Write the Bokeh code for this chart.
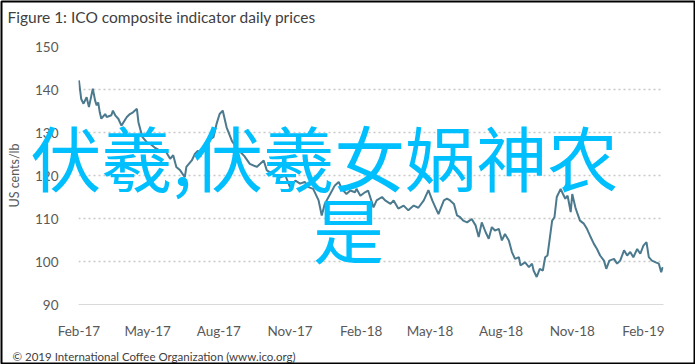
import pandas as pd
from bokeh.plotting import figure
from bokeh.models import Range1d, FixedTicker, DatetimeTickFormatter, ColumnDataSource
from bokeh.core.properties import value
from bokeh.embed import file_html
from bokeh.resources import INLINE

# ---------------- data ----------------
title_text = "Figure 1: ICO composite indicator daily prices"
source_text = "© 2019 International Coffee Organization (www.ico.org)"
y_axis_title = "US cents/lb"
overlay_line1 = "伏羲,伏羲女娲神农"
overlay_line2 = "是"

dates = [
    "2017-02-01", "2017-02-04", "2017-02-07", "2017-02-11", "2017-02-14", "2017-02-19",
    "2017-02-22", "2017-02-24", "2017-02-26", "2017-02-28", "2017-03-02", "2017-03-07",
    "2017-03-09", "2017-03-15", "2017-03-17", "2017-03-20", "2017-03-24", "2017-03-28",
    "2017-04-04", "2017-04-08", "2017-04-12", "2017-04-17", "2017-04-19", "2017-04-24",
    "2017-04-30", "2017-05-04", "2017-05-10", "2017-05-17", "2017-05-25", "2017-05-30",
    "2017-06-03", "2017-06-07", "2017-06-12", "2017-06-18", "2017-06-20", "2017-06-27",
    "2017-07-01", "2017-07-05", "2017-07-08", "2017-07-12", "2017-07-18", "2017-07-25",
    "2017-07-29", "2017-08-02", "2017-08-06", "2017-08-09", "2017-08-11", "2017-08-18",
    "2017-08-26", "2017-09-03", "2017-09-10", "2017-09-19", "2017-09-28", "2017-10-02",
    "2017-10-10", "2017-10-19", "2017-10-26", "2017-11-01", "2017-11-08", "2017-11-14",
    "2017-11-20", "2017-11-25", "2017-12-01", "2017-12-08", "2017-12-12", "2017-12-16",
    "2017-12-23", "2017-12-29", "2018-01-03", "2018-01-07", "2018-01-13", "2018-01-18",
    "2018-01-24", "2018-01-26", "2018-01-31", "2018-02-06", "2018-02-10", "2018-02-17",
    "2018-02-21", "2018-02-28", "2018-03-04", "2018-03-11", "2018-03-15", "2018-03-21",
    "2018-03-28", "2018-04-03", "2018-04-10", "2018-04-16", "2018-04-23", "2018-04-29",
    "2018-05-04", "2018-05-08", "2018-05-12", "2018-05-19", "2018-05-23", "2018-05-27",
    "2018-06-01", "2018-06-05", "2018-06-09", "2018-06-13", "2018-06-18", "2018-06-24",
    "2018-06-29", "2018-07-03", "2018-07-07", "2018-07-12", "2018-07-16", "2018-07-20",
    "2018-07-24", "2018-07-29", "2018-08-02", "2018-08-06", "2018-08-11", "2018-08-15",
    "2018-08-19", "2018-08-24", "2018-08-26", "2018-09-01", "2018-09-06", "2018-09-10",
    "2018-09-12", "2018-09-16", "2018-09-20", "2018-09-24", "2018-09-27", "2018-09-30",
    "2018-10-06", "2018-10-09", "2018-10-12", "2018-10-17", "2018-10-20", "2018-10-23",
    "2018-10-26", "2018-10-30", "2018-11-01", "2018-11-05", "2018-11-08", "2018-11-11",
    "2018-11-16", "2018-11-20", "2018-11-24", "2018-11-29", "2018-12-03", "2018-12-07",
    "2018-12-12", "2018-12-15", "2018-12-19", "2018-12-25", "2018-12-29", "2019-01-02",
    "2019-01-07", "2019-01-11", "2019-01-15", "2019-01-19", "2019-01-24", "2019-01-28",
    "2019-02-01", "2019-02-05", "2019-02-08", "2019-02-12", "2019-02-17", "2019-02-21",
    "2019-02-24", "2019-02-26",
]
prices = [
    142.1, 137.8, 136.7, 138.2, 135.9, 140.2,
    137.4, 136.3, 137.0, 134.7, 133.2, 134.3,
    133.6, 134.0, 135.1, 134.0, 133.2, 131.6,
    133.6, 134.3, 134.7, 135.5, 132.4, 129.0,
    127.7, 127.4, 126.5, 125.8, 125.4, 123.9,
    124.7, 122.0, 121.2, 119.6, 122.0, 123.5,
    125.0, 125.8, 124.3, 126.6, 128.1, 128.9,
    132.0, 134.3, 135.1, 132.8, 131.2, 128.0,
    126.0, 124.5, 122.7, 122.0, 123.5, 121.2,
    120.4, 119.6, 120.0, 117.3, 118.8, 118.1,
    118.5, 117.3, 116.9, 114.2, 110.7, 113.4,
    115.7, 117.7, 118.5, 116.9, 115.7, 116.5,
    116.1, 116.9, 115.3, 116.1, 116.5, 112.6,
    114.2, 115.0, 114.2, 113.4, 114.2, 112.3,
    113.0, 111.9, 113.0, 112.5, 114.2, 116.6,
    114.2, 112.6, 111.0, 114.2, 114.6, 114.2,
    113.4, 110.7, 110.3, 109.5, 109.1, 109.9,
    108.4, 105.7, 109.1, 106.8, 105.3, 108.0,
    107.2, 107.6, 104.9, 106.4, 104.9, 102.2,
    100.6, 101.0, 99.1, 99.8, 98.7, 99.5,
    97.9, 96.4, 98.3, 97.9, 101.0, 101.4,
    109.5, 110.3, 115.0, 116.9, 115.7, 114.6,
    115.3, 111.5, 115.7, 112.6, 111.0, 109.5,
    108.8, 107.6, 106.0, 104.1, 102.9, 101.4,
    100.2, 98.3, 100.2, 100.6, 99.5, 100.2,
    102.6, 101.4, 102.2, 101.0, 102.9, 101.8,
    103.7, 104.5, 101.0, 100.2, 99.8, 99.5,
    97.5, 98.7,
]
x_tick_dates = ["2017-02-01", "2017-05-01", "2017-08-01", "2017-11-01", "2018-02-01",
                "2018-05-01", "2018-08-01", "2018-11-01", "2019-02-01"]
y_ticks = [90, 100, 110, 120, 130, 140, 150]

# ---------------- layout ----------------
W, H = 695, 364
LEFT, RIGHT, TOP, BOTTOM = 78, 32, 46, 60
x_start = pd.Timestamp("2017-01-31 12:00")
x_end = pd.Timestamp("2019-02-27 00:00")
y_start, y_end = 90, 150


def ms(ts):
    return pd.Timestamp(ts).value / 1e6


xs0, xs1 = ms(x_start), ms(x_end)
fw, fh = W - LEFT - RIGHT, H - TOP - BOTTOM


def cx(px):  # canvas px -> data x
    return xs0 + (px - LEFT) / fw * (xs1 - xs0)


def cy(py):  # canvas px (from top) -> data y
    return y_end - (py - TOP) / fh * (y_end - y_start)


src = ColumnDataSource(dict(date=pd.to_datetime(dates), price=prices))

p = figure(width=W, height=H, x_axis_type="datetime", output_backend="svg",
           toolbar_location=None, min_border_left=LEFT, min_border_right=RIGHT,
           min_border_top=TOP, min_border_bottom=BOTTOM,
           x_range=Range1d(xs0, xs1), y_range=Range1d(y_start, y_end))
p.outline_line_color = None
p.background_fill_color = "white"
p.border_fill_color = "white"

p.line("date", "price", source=src, line_color="#4b798d", line_width=2)

# axes
tick_font = "Lato"
p.xaxis.ticker = FixedTicker(ticks=[ms(d) for d in x_tick_dates])
fmt = "%b-%y"
p.xaxis.formatter = DatetimeTickFormatter(milliseconds=fmt, seconds=fmt, minsec=fmt, minutes=fmt,
                                          hourmin=fmt, hours=fmt, days=fmt, months=fmt, years=fmt)
p.yaxis.ticker = FixedTicker(ticks=y_ticks)
for ax in (p.xaxis, p.yaxis):
    ax.major_label_text_font = tick_font
    ax.major_label_text_font_size = "13.5px"
    ax.major_label_text_color = "#595959"
    ax.major_tick_line_color = None
    ax.minor_tick_line_color = None
p.xaxis.axis_line_color = "#d9d9d9"
p.xaxis.axis_line_width = 1
p.xaxis.major_label_standoff = 12
p.yaxis.axis_line_color = None
p.yaxis.major_label_standoff = 14
p.yaxis.axis_label = y_axis_title
p.yaxis.axis_label_text_font = tick_font
p.yaxis.axis_label_text_font_size = "12.5px"
p.yaxis.axis_label_text_font_style = "normal"
p.yaxis.axis_label_text_color = "#595959"
p.yaxis.axis_label_standoff = 10

p.xgrid.grid_line_color = None
p.ygrid.grid_line_color = "#c8c8c8"
p.ygrid.grid_line_dash = "2 3"
p.ygrid.grid_line_width = 1.5

# texts (glyph renderers on the overlay level are not clipped to the frame)
p.text(x=[cx(7)], y=[cy(16)], text=[title_text], text_font=value("Lato"),
       text_font_size="15.5px", text_color="#404040", text_align="left",
       text_baseline="middle", level="overlay")
p.text(x=[cx(12)], y=[cy(356)], text=[source_text], text_font=value("Lato"),
       text_font_size="11.5px", text_color="#404040", text_align="left",
       text_baseline="middle", level="overlay")
p.text(x=[cx(30)], y=[cy(154)], text=[overlay_line1], text_font=value("Noto Sans CJK SC"),
       text_font_size="71px", text_color="#00BFFF", text_align="left",
       text_baseline="middle", level="overlay")
p.text(x=[cx(348)], y=[cy(226)], text=[overlay_line2], text_font=value("Noto Sans CJK SC"),
       text_font_size="71px", text_color="#00BFFF", text_align="center",
       text_baseline="middle", level="overlay")

# picture frame around the whole canvas
p.quad(left=[cx(1)], right=[cx(694)], top=[cy(1)], bottom=[cy(363)],
       fill_color=None, line_color="black", line_width=2, level="overlay")

open("out.html", "w").write(file_html(p, INLINE))
